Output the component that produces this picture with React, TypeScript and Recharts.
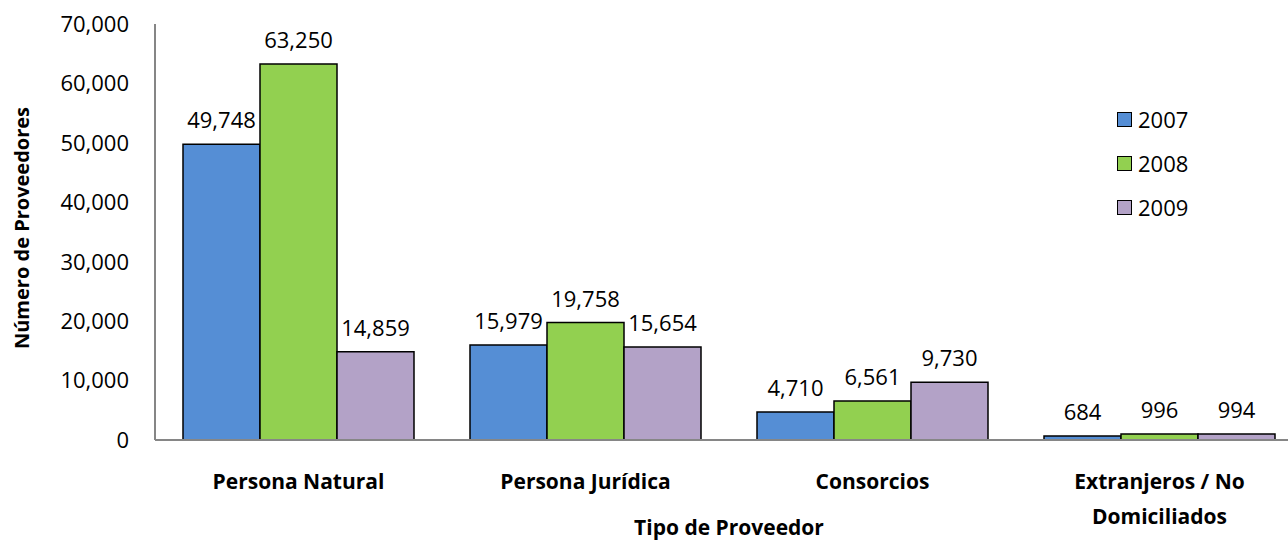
import { BarChart, Bar, XAxis, YAxis, LabelList, Legend } from 'recharts';

const categories = ['Persona Natural', 'Persona Jurídica', 'Consorcios', 'Extranjeros / No Domiciliados'];
const years = ['2007', '2008', '2009'];
const values2007 = [49748, 15979, 4710, 684];
const values2008 = [63250, 19758, 6561, 996];
const values2009 = [14859, 15654, 9730, 994];
const yTicks = [0, 10000, 20000, 30000, 40000, 50000, 60000, 70000];

const colors = ['#558ED5', '#92D050', '#B3A2C7'];
const FONT = '"Open Sans", sans-serif';

const chartData = categories.map((name, i) => ({
  name,
  '2007': values2007[i],
  '2008': values2008[i],
  '2009': values2009[i],
}));

const fmt = (v: number) => v.toLocaleString('en-US');

// greedy word wrap by character count
function wrap(s: string, max = 16) {
  const lines: string[] = [];
  let cur = '';
  s.split(' ').forEach(w => {
    const next = cur ? cur + ' ' + w : w;
    if (next.length > max && cur) {
      lines.push(cur);
      cur = w;
    } else {
      cur = next;
    }
  });
  if (cur) lines.push(cur);
  return lines;
}

function CategoryTick({ x, y, payload }: any) {
  const lines = wrap(String(payload.value));
  return (
    <text
      x={x}
      y={y + 47}
      textAnchor="middle"
      fontFamily={FONT}
      fontWeight={700}
      fontSize={21}
      fill="#000"
    >
      {lines.map((l, i) => (
        <tspan key={i} x={x} dy={i === 0 ? 0 : 35}>
          {l}
        </tspan>
      ))}
    </text>
  );
}

function LegendBox() {
  return (
    <div style={{ fontFamily: FONT, fontSize: 22, color: '#000' }}>
      {years.map((y, i) => (
        <div key={y} style={{ display: 'flex', alignItems: 'center', height: 44 }}>
          <span
            style={{
              width: 13,
              height: 13,
              background: colors[i],
              border: '1.5px solid #000',
              marginRight: 6,
            }}
          />
          <span>{y}</span>
        </div>
      ))}
    </div>
  );
}

export default function App() {
  return (
    <div style={{ position: 'absolute', left: 0, top: 0, width: 1288, height: 542, overflow: 'hidden', background: '#fff' }}>
      <BarChart
        width={1310}
        height={542}
        data={chartData}
        margin={{ top: 24, right: 7, bottom: 0, left: 0 }}
        barCategoryGap={28}
        barGap={0}
      >
        <XAxis
          dataKey="name"
          height={102}
          axisLine={{ stroke: '#868686', strokeWidth: 2 }}
          tickLine={false}
          tickSize={0}
          interval={0}
          tick={<CategoryTick />}
          label={{
            content: ({ viewBox }: any) => (
              <text
                x={viewBox.x + viewBox.width / 2}
                y={535}
                textAnchor="middle"
                fontFamily={FONT}
                fontWeight={700}
                fontSize={21}
                fill="#000"
              >
                Tipo de Proveedor
              </text>
            ),
          }}
        />
        <YAxis
          width={155}
          domain={[0, 70000]}
          ticks={yTicks}
          interval={0}
          tickFormatter={fmt}
          axisLine={{ stroke: '#868686', strokeWidth: 2 }}
          tickLine={false}
          tickSize={0}
          tickMargin={26}
          tick={{ fontFamily: FONT, fontSize: 22, fill: '#000' }}
          label={{
            content: ({ viewBox }: any) => {
              const cx = 21;
              const cy = viewBox.y + viewBox.height / 2 - 4;
              return (
                <text
                  x={cx}
                  y={cy}
                  transform={`rotate(-90, ${cx}, ${cy})`}
                  textAnchor="middle"
                  dominantBaseline="central"
                  fontFamily={FONT}
                  fontWeight={700}
                  fontSize={20}
                  fill="#000"
                >
                  Número de Proveedores
                </text>
              );
            },
          }}
        />
        <Legend
          layout="vertical"
          align="center"
          verticalAlign="middle"
          content={<LegendBox />}
          wrapperStyle={{ position: 'absolute', left: 1117, top: 97, width: 120 }}
        />
        {years.map((y, i) => (
          <Bar
            key={y}
            dataKey={y}
            fill={colors[i]}
            stroke="#000"
            strokeWidth={1.5}
            isAnimationActive={false}
          >
            <LabelList
              dataKey={y}
              position="top"
              offset={16}
              formatter={(v: any) => fmt(Number(v))}
              style={{ fontFamily: FONT, fontSize: 22, fill: '#000' }}
            />
          </Bar>
        ))}
      </BarChart>
    </div>
  );
}
